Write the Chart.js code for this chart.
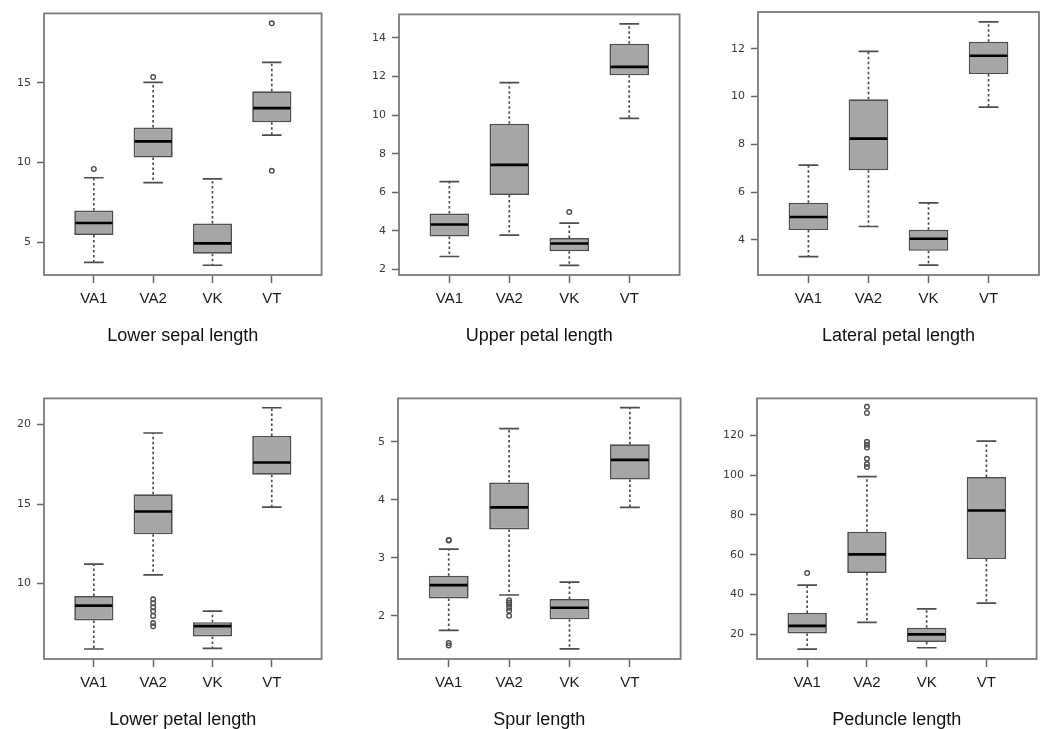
<!DOCTYPE html>
<html>
<head>
<meta charset="utf-8">
<script src="https://cdn.jsdelivr.net/npm/chart.js@4"></script>
<style>
  html, body { margin: 0; padding: 0; background: #fff; overflow: hidden; }
  body { width: 1041px; height: 729px; position: relative; }
  .panel { position: absolute; }
</style>
</head>
<body>
<div id="panels"></div>
<script>
// categories and panel titles
const categories = ["VA1", "VA2", "VK", "VT"];
const titles = [
  "Lower sepal length",
  "Upper petal length",
  "Lateral petal length",
  "Lower petal length",
  "Spur length",
  "Peduncle length",
];

// box plot statistics, one row per panel, one value per category
const whiskerLow = [
  [3.75, 8.74, 3.57, 11.72],
  [2.67, 3.78, 2.21, 9.83],
  [3.3, 4.56, 2.94, 9.56],
  [5.87, 10.54, 5.91, 14.8],
  [1.75, 2.36, 1.43, 3.87],
  [12.65, 26.0, 13.3, 35.7],
];
const q1 = [
  [5.47, 10.31, 4.29, 12.53],
  [3.7, 5.86, 2.94, 12.06],
  [4.41, 6.92, 3.54, 10.94],
  [7.66, 13.09, 6.66, 16.84],
  [2.3, 3.49, 1.94, 4.35],
  [20.5, 50.8, 16.2, 57.8],
];
const median = [
  [6.22, 11.33, 4.94, 13.41],
  [4.33, 7.42, 3.34, 12.5],
  [4.96, 8.24, 4.05, 11.71],
  [8.6, 14.53, 7.31, 17.61],
  [2.53, 3.87, 2.14, 4.69],
  [24.3, 60.2, 20.0, 82.2],
];
const q3 = [
  [7.0, 12.2, 6.18, 14.46],
  [4.9, 9.55, 3.63, 13.7],
  [5.55, 9.89, 4.42, 12.29],
  [9.2, 15.61, 7.56, 19.29],
  [2.69, 4.3, 2.29, 4.96],
  [30.8, 71.5, 23.3, 99.0],
];
const whiskerHigh = [
  [9.05, 15.02, 8.98, 16.27],
  [6.55, 11.68, 4.4, 14.73],
  [7.13, 11.89, 5.55, 13.13],
  [11.21, 19.47, 8.25, 21.06],
  [3.15, 5.23, 2.58, 5.59],
  [44.7, 99.2, 32.8, 117.0],
];
const outliers = [
  [[9.6], [15.35], [], [18.72, 9.48]],
  [[], [], [4.97], []],
  [[], [], [], []],
  [[], [9.0, 8.75, 8.5, 8.25, 7.95, 7.5, 7.3], [], []],
  [[3.31, 3.3, 1.53, 1.49], [2.27, 2.23, 2.19, 2.14, 2.09, 2.0], [], []],
  [[50.8], [134.3, 131.2, 116.7, 115.2, 113.8, 108.2, 105.5, 104], [], []],
];

// y axis extents and tick steps
const yMin = [2.96, 1.71, 2.53, 5.24, 1.256, 7.65];
const yMax = [19.34, 15.22, 13.54, 21.65, 5.75, 138.5];
const yStep = [5, 2, 2, 5, 1, 20];

// plot frame of each panel on the page: left, top, right, bottom
const frames = [
  [44, 12, 322, 275],
  [399, 13, 680, 275],
  [758, 12, 1037, 275],
  [44, 397, 322, 659],
  [398, 397, 681, 659],
  [757, 397, 1037, 659],
];

const AXIS_W = 44;
const AXIS_H = 80;
const PAD_TOP = 4;
const PAD_RIGHT = 3;
const SLACK_RIGHT = 2; // chart.js keeps a little room past the last x label
const INK = "#4d4d4d";

Chart.defaults.font.family = "'Liberation Sans', Arial, sans-serif";

const boxParts = {
  id: "boxParts",
  beforeDatasetsDraw(chart, args, opts) {
    const p = opts.panel;
    const ctx = chart.ctx;
    const y = chart.scales.y;
    const bars = chart.getDatasetMeta(0).data;
    ctx.save();
    ctx.strokeStyle = INK;
    ctx.lineWidth = 1.7;
    bars.forEach((bar, j) => {
      const cap = bar.width / 4;
      const lo = y.getPixelForValue(whiskerLow[p][j]);
      const hi = y.getPixelForValue(whiskerHigh[p][j]);
      const b1 = y.getPixelForValue(q1[p][j]);
      const b3 = y.getPixelForValue(q3[p][j]);
      ctx.setLineDash([2.5, 2.5]);
      ctx.beginPath();
      ctx.moveTo(bar.x, b3);
      ctx.lineTo(bar.x, hi);
      ctx.moveTo(bar.x, b1);
      ctx.lineTo(bar.x, lo);
      ctx.stroke();
      ctx.setLineDash([]);
      ctx.beginPath();
      ctx.moveTo(bar.x - cap, hi);
      ctx.lineTo(bar.x + cap, hi);
      ctx.moveTo(bar.x - cap, lo);
      ctx.lineTo(bar.x + cap, lo);
      ctx.stroke();
    });
    ctx.restore();
  },
  afterDatasetsDraw(chart, args, opts) {
    const p = opts.panel;
    const ctx = chart.ctx;
    const y = chart.scales.y;
    const bars = chart.getDatasetMeta(0).data;
    ctx.save();
    ctx.strokeStyle = "#000";
    ctx.lineWidth = 2.6;
    bars.forEach((bar, j) => {
      const m = y.getPixelForValue(median[p][j]);
      ctx.beginPath();
      ctx.moveTo(bar.x - bar.width / 2 + 1, m);
      ctx.lineTo(bar.x + bar.width / 2 - 1, m);
      ctx.stroke();
    });
    const a = chart.chartArea;
    ctx.strokeStyle = "#7a7a7a";
    ctx.lineWidth = 1.8;
    ctx.strokeRect(a.left, a.top, a.right - a.left, a.bottom - a.top);
    ctx.restore();
  },
};

function makePanel(p) {
  const f = frames[p];
  const div = document.createElement("div");
  div.className = "panel";
  div.style.left = f[0] - AXIS_W + "px";
  div.style.top = f[1] - PAD_TOP + "px";
  div.style.width = AXIS_W + (f[2] - f[0]) + PAD_RIGHT + SLACK_RIGHT + "px";
  div.style.height = PAD_TOP + (f[3] - f[1]) + AXIS_H + "px";
  const canvas = document.createElement("canvas");
  div.appendChild(canvas);
  document.getElementById("panels").appendChild(div);

  const boxes = categories.map((c, j) => ({ x: j + 1, y: [q1[p][j], q3[p][j]] }));
  const points = [];
  outliers[p].forEach((vals, j) => {
    vals.forEach((v) => points.push({ x: j + 1, y: v }));
  });

  new Chart(canvas.getContext("2d"), {
    type: "bar",
    data: {
      datasets: [
        {
          data: boxes,
          backgroundColor: "#a6a6a6",
          borderColor: INK,
          borderWidth: 1.7,
          borderSkipped: false,
          categoryPercentage: 1,
          barPercentage: 0.66,
        },
        {
          type: "scatter",
          data: points,
          pointStyle: "circle",
          pointRadius: 2.3,
          borderColor: INK,
          borderWidth: 1.4,
          backgroundColor: "rgba(0,0,0,0)",
        },
      ],
    },
    options: {
      responsive: true,
      maintainAspectRatio: false,
      animation: false,
      layout: { padding: { top: PAD_TOP, right: PAD_RIGHT, left: 0, bottom: 0 } },
      plugins: {
        legend: { display: false },
        tooltip: { enabled: false },
        boxParts: { panel: p },
      },
      scales: {
        x: {
          type: "linear",
          min: 0.16,
          max: 4.84,
          offset: false,
          grid: {
            offset: false,
            drawOnChartArea: false,
            drawTicks: true,
            tickLength: 8,
            tickColor: "#666",
            tickWidth: 1.5,
          },
          border: { display: false },
          afterBuildTicks: (scale) => {
            scale.ticks = categories.map((c, j) => ({ value: j + 1 }));
          },
          afterFit: (scale) => {
            scale.height = AXIS_H;
            scale.paddingLeft = 0;
            scale.paddingRight = 0;
          },
          ticks: {
            autoSkip: false,
            maxRotation: 0,
            padding: 7,
            color: "#1a1a1a",
            font: { size: 15 },
            callback: (value) => categories[Math.round(value) - 1],
          },
          title: {
            display: true,
            text: titles[p],
            color: "#111",
            font: { size: 18 },
            padding: { top: 0, bottom: 8 },
          },
        },
        y: {
          min: yMin[p],
          max: yMax[p],
          beginAtZero: false,
          grid: {
            drawOnChartArea: false,
            drawTicks: true,
            tickLength: 7,
            tickColor: "#666",
            tickWidth: 1.5,
          },
          border: { display: false },
          afterFit: (scale) => {
            scale.width = AXIS_W;
            scale.paddingTop = 0;
            scale.paddingBottom = 0;
          },
          ticks: {
            stepSize: yStep[p],
            includeBounds: false,
            padding: 6,
            color: "#3a3a3a",
            font: { family: "'DejaVu Sans', sans-serif", size: 11 },
          },
        },
      },
    },
    plugins: [boxParts],
  });
}

titles.forEach((t, p) => makePanel(p));
</script>
</body>
</html>
